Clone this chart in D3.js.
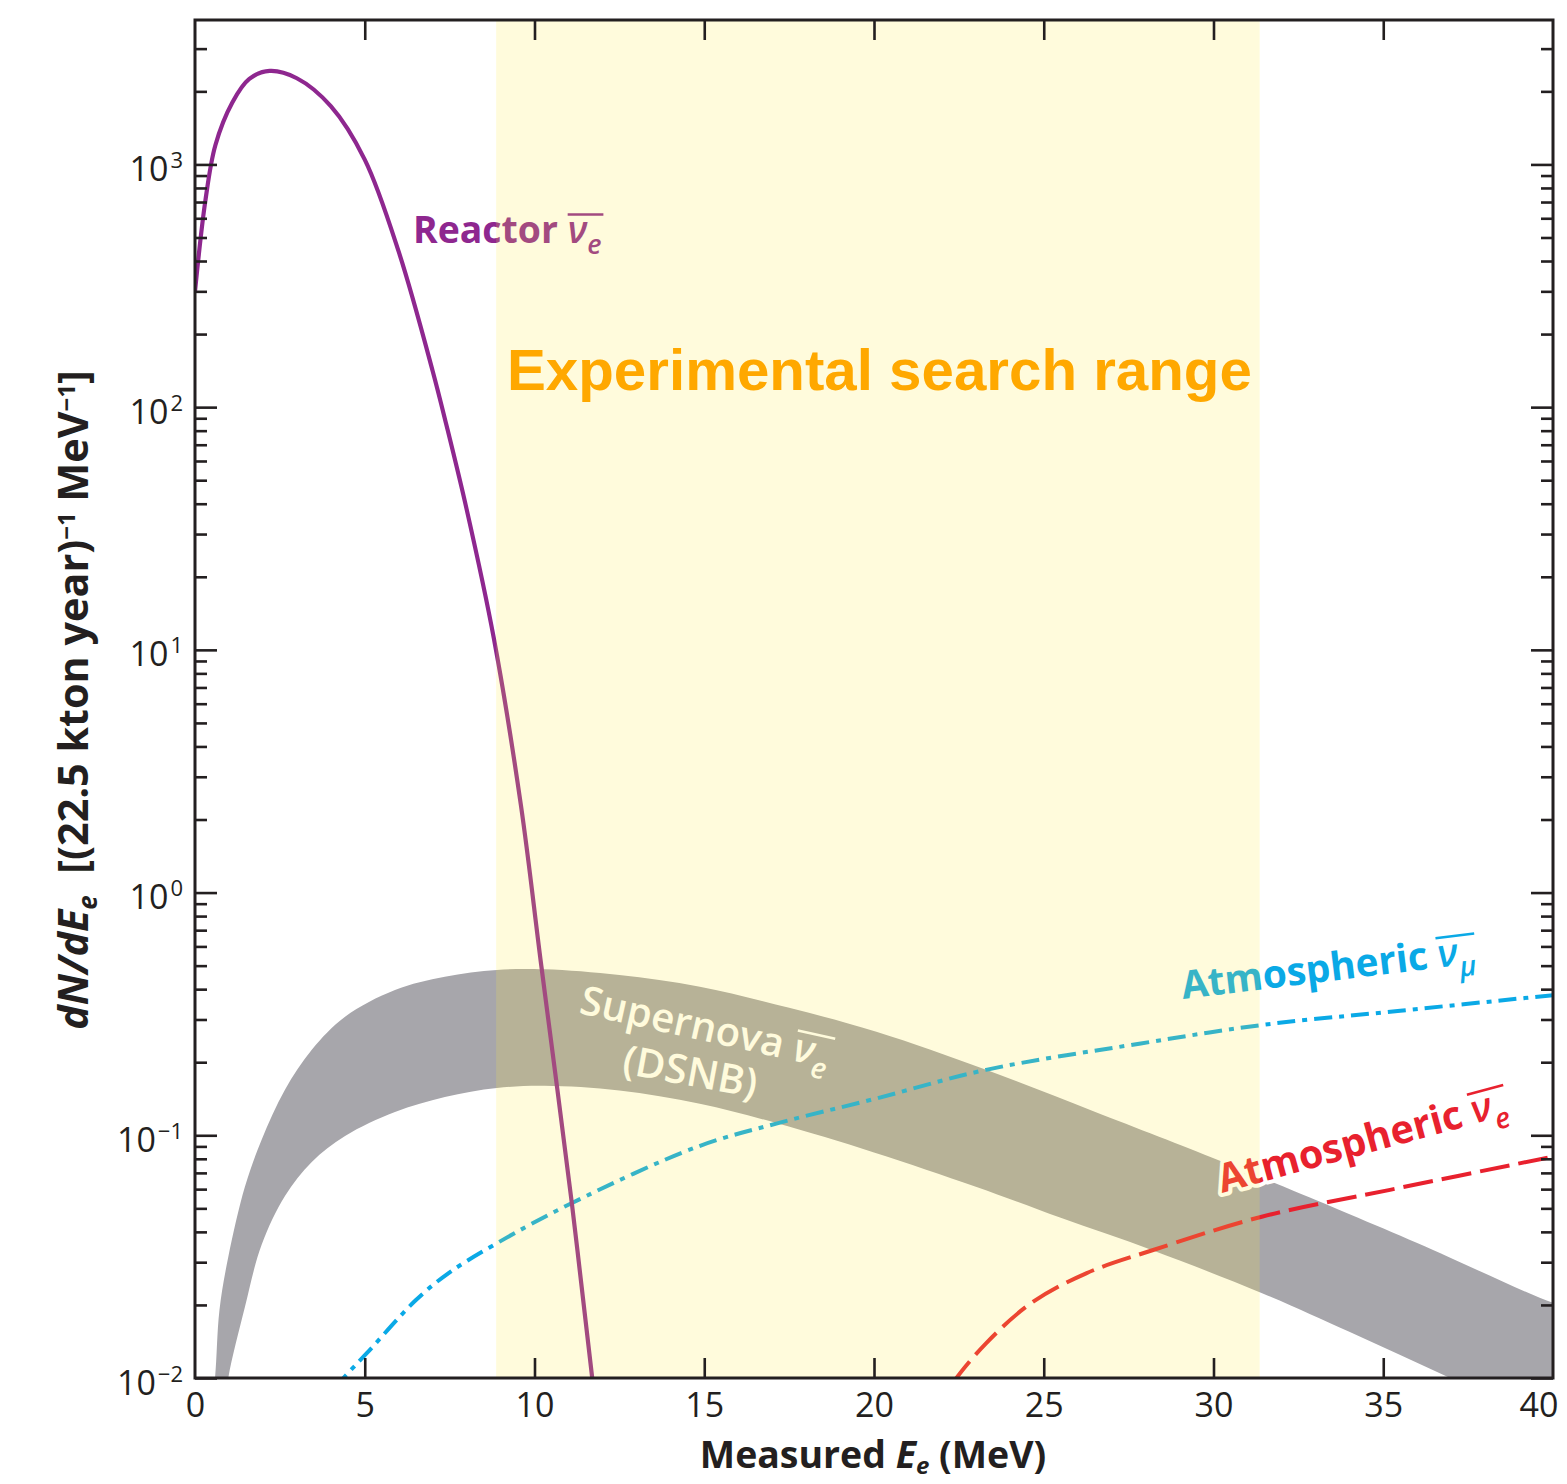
<!DOCTYPE html>
<html><head><meta charset="utf-8">
<script src="https://cdn.jsdelivr.net/npm/d3@7"></script>
<style>html,body{margin:0;padding:0;background:#fff}</style>
</head><body>
<svg id="chart" width="1567" height="1484"></svg>
<script>
// ---------------- data ----------------
const xDomain = [0, 40];
const yDomain = [0.01, 3936];
const xTicks = [0, 5, 10, 15, 20, 25, 30, 35, 40];
const yDecades = [0.01, 0.1, 1, 10, 100, 1000];
const yDecadeExp = ["\u22122", "\u22121", "0", "1", "2", "3"];
const searchRange = [8.87, 31.36];

const reactorE = [0, 0.3, 0.6, 1.1, 1.6, 2.2, 3.0, 4.0, 5.0, 6.0, 7.0, 7.4, 8.0, 8.8, 9.6, 10.2, 11.1, 11.7, 11.85];
const reactorN = [300, 700, 1200, 1800, 2250, 2427, 2265, 1738, 1047, 437, 141, 85, 38, 11.2, 2.29, 0.5, 0.0525, 0.01, 0.0072];

const dsnbUpperE = [0.45, 0.59, 0.72, 0.98, 1.47, 1.96, 2.65, 3.44, 4.42, 5.89, 7.36, 8.89, 10.3, 12.5, 14.87, 17.5, 20.07, 23.3, 26.5, 30.15, 32.18, 36, 40, 41];
const dsnbUpper  = [0.007, 0.01, 0.019, 0.0315, 0.0613, 0.0957, 0.154, 0.225, 0.308, 0.397, 0.45, 0.48, 0.483, 0.457, 0.409, 0.335, 0.267, 0.186, 0.125, 0.079, 0.0605, 0.036, 0.0204, 0.0186];
const dsnbLowerE = [0.85, 0.98, 1.47, 1.96, 2.65, 3.44, 4.42, 5.89, 7.36, 8.89, 10.3, 12.5, 14.87, 17.15, 20, 23.0, 25.5, 28.2, 31.45, 34, 36.97, 40, 41];
const dsnbLower  = [0.007, 0.01, 0.0196, 0.0353, 0.0562, 0.0776, 0.0993, 0.1247, 0.1439, 0.1567, 0.16, 0.153, 0.135, 0.112, 0.085, 0.0614, 0.0457, 0.0336, 0.0223, 0.0155, 0.01, 0.0065, 0.0055];

const atmMuE = [4.1, 4.37, 5.06, 6.5, 7.46, 8.89, 11.09, 14.8, 17.15, 20, 23.3, 27.86, 31.45, 35.5, 40];
const atmMu  = [0.0091, 0.01, 0.01265, 0.0209, 0.027, 0.0359, 0.0525, 0.0897, 0.112, 0.141, 0.186, 0.239, 0.285, 0.326, 0.378];

const atmEE = [22.3, 22.43, 23.3, 24.62, 26.25, 28.2, 31.45, 35.2, 40];
const atmE  = [0.0093, 0.01, 0.0139, 0.0203, 0.027, 0.0336, 0.0463, 0.0596, 0.0817];

// ---------------- drawing ----------------
const svg = d3.select("#chart");
const X0 = 195, X1 = 1553, Y0 = 1378, Y1 = 20;
const INK = "#231f20";
const LABEL_FONT = "'Open Sans', 'Noto Sans', sans-serif";
const x = d3.scaleLinear().domain(xDomain).range([X0, X1]);
const y = d3.scaleLog().domain(yDomain).range([Y0, Y1]);

function draw() {
  svg.append("rect").attr("width", 1567).attr("height", 1484).attr("fill", "#fff");
  svg.append("defs").append("clipPath").attr("id", "plotclip")
    .append("rect").attr("x", X0).attr("y", Y1).attr("width", X1 - X0).attr("height", Y0 - Y1);

  const plot = svg.append("g").attr("clip-path", "url(#plotclip)");

  const pts = (E, V) => E.map((e, i) => [e, V[i]]);
  const line = d3.line().x(d => x(d[0])).y(d => y(d[1])).curve(d3.curveCatmullRom.alpha(0.5));

  // DSNB band
  const bandPts = pts(dsnbUpperE, dsnbUpper).concat(pts(dsnbLowerE, dsnbLower).reverse());
  plot.append("path").attr("d", line(bandPts) + "Z").attr("fill", "#a7a6ab");

  // atmospheric nu_mu-bar (dash-dot)
  plot.append("path").attr("d", line(pts(atmMuE, atmMu))).attr("fill", "none")
    .attr("stroke", "#0aa9e6").attr("stroke-width", 4).attr("stroke-dasharray", "18,7,5,7");
  // atmospheric nu_e-bar (long dash)
  plot.append("path").attr("d", line(pts(atmEE, atmE))).attr("fill", "none")
    .attr("stroke", "#e8212e").attr("stroke-width", 4).attr("stroke-dasharray", "30,9");
  // reactor
  plot.append("path").attr("d", line(pts(reactorE, reactorN))).attr("fill", "none")
    .attr("stroke", "#8e278f").attr("stroke-width", 4.2);

  // labels with nu-bar
  function nuLabel(o) {
    const g = svg.append("g").attr("transform", `translate(${o.x},${o.y}) rotate(${o.angle})`);
    const t = g.append("text").attr("font-family", LABEL_FONT).attr("font-weight", o.weight || 700)
      .attr("fill", o.fill).attr("font-size", 40);
    if (o.halo) t.attr("stroke", "#fff").attr("stroke-width", 8).attr("paint-order", "stroke").attr("stroke-linejoin", "round");
    const t1 = t.append("tspan").text(o.word);
    const w = t1.node().getComputedTextLength();
    const fs = 40 * o.width / w;
    t.attr("font-size", fs);
    if (!o.greek) return;
    t.append("tspan").text("\u00a0");
    t.append("tspan").attr("font-style", "italic").attr("font-weight", 600).text(o.greek);
    t.append("tspan").attr("font-style", "italic").attr("font-weight", 600).attr("font-size", fs * 0.72).attr("dy", fs * 0.3).text(o.sub);
    const n = t.node();
    const i = o.word.length + 1;
    const sx = n.getStartPositionOfChar(i).x, ex = n.getEndPositionOfChar(i + 1).x;
    if (o.halo) g.insert("line", "text").attr("x1", sx).attr("x2", ex + 2).attr("y1", -fs * 0.76).attr("y2", -fs * 0.76)
      .attr("stroke", "#fff").attr("stroke-width", 8);
    g.append("line").attr("x1", sx).attr("x2", ex + 2).attr("y1", -fs * 0.76).attr("y2", -fs * 0.76)
      .attr("stroke", o.fill).attr("stroke-width", Math.max(2, fs * 0.065));
  }
  nuLabel({word: "Reactor", greek: "\u03bd", sub: "e", x: 413, y: 243, angle: 0, width: 145, fill: "#8e278f"});
  nuLabel({word: "Supernova", greek: "\u03bd", sub: "e", x: 578, y: 1013, angle: 12.5, width: 208, fill: "#ffffff", weight: 600});
  nuLabel({word: "(DSNB)", x: 621, y: 1073, angle: 10.5, width: 136, fill: "#ffffff", weight: 600});
  nuLabel({word: "Atmospheric", greek: "\u03bd", sub: "\u03bc", x: 1183, y: 999, angle: -7, width: 248, fill: "#0aa9e6"});
  nuLabel({word: "Atmospheric", greek: "\u03bd", sub: "e", x: 1222, y: 1193, angle: -15.3, width: 252, fill: "#e8212e", halo: true});

  // search-range overlay
  svg.append("rect").attr("x", x(searchRange[0])).attr("y", Y1)
    .attr("width", x(searchRange[1]) - x(searchRange[0])).attr("height", Y0 - Y1)
    .attr("fill", "rgb(255,233,64)").attr("opacity", 0.185);

  const exp = svg.append("text").attr("x", 507).attr("y", 390)
    .attr("font-family", "'Liberation Sans', Arial, sans-serif").attr("font-weight", 700)
    .attr("fill", "#ffa800").attr("font-size", 56).text("Experimental search range");
  const ew = exp.node().getComputedTextLength();
  exp.attr("font-size", 56 * 745 / ew);

  // ---------------- axes ----------------
  const minor = [];
  for (let k = -2; k <= 3; k++) for (let m = 2; m <= 9; m++) {
    const v = m * Math.pow(10, k);
    if (v <= yDomain[1]) minor.push(v);
  }
  const styleAxis = g => {
    g.select(".domain").remove();
    g.selectAll(".tick line").attr("stroke", INK).attr("stroke-width", 2.6);
  };
  svg.append("g").attr("transform", `translate(${X0},0)`).call(d3.axisLeft(y).tickValues(minor).tickSize(-12).tickFormat("")).call(styleAxis);
  svg.append("g").attr("transform", `translate(${X1},0)`).call(d3.axisRight(y).tickValues(minor).tickSize(-12).tickFormat("")).call(styleAxis);
  svg.append("g").attr("transform", `translate(${X1},0)`).call(d3.axisRight(y).tickValues(yDecades).tickSize(-22).tickFormat("")).call(styleAxis);
  const yl = svg.append("g").attr("transform", `translate(${X0},0)`)
    .call(d3.axisLeft(y).tickValues(yDecades).tickSize(-22)).call(styleAxis);
  yl.selectAll(".tick text").each(function(d) {
    const t = d3.select(this);
    t.text(null).attr("x", -12).attr("dy", null).attr("y", 16)
      .attr("font-family", LABEL_FONT).attr("font-size", 34).attr("fill", INK).attr("text-anchor", "end");
    t.append("tspan").text("10");
    t.append("tspan").attr("dy", -13).attr("dx", 2).attr("font-size", 22).text(yDecadeExp[yDecades.indexOf(d)]);
  });
  const xb = svg.append("g").attr("transform", `translate(0,${Y0})`)
    .call(d3.axisBottom(x).tickValues(xTicks).tickSize(-20).tickPadding(15)).call(styleAxis);
  xb.selectAll(".tick text").attr("font-family", LABEL_FONT).attr("font-size", 34).attr("fill", INK)
    .filter(d => d === 40).attr("text-anchor", "end").attr("x", 5);
  xb.selectAll(".tick line").filter(d => d === 0 || d === 40).remove();
  const xt = svg.append("g").attr("transform", `translate(0,${Y1})`)
    .call(d3.axisTop(x).tickValues(xTicks).tickSize(-20).tickFormat("")).call(styleAxis);
  xt.selectAll(".tick line").filter(d => d === 0 || d === 40).remove();

  // frame
  svg.append("rect").attr("x", X0).attr("y", Y1).attr("width", X1 - X0).attr("height", Y0 - Y1)
    .attr("fill", "none").attr("stroke", INK).attr("stroke-width", 3);

  // axis titles
  const xt2 = svg.append("text").attr("x", 873).attr("y", 1468).attr("text-anchor", "middle")
    .attr("font-family", LABEL_FONT).attr("font-weight", 700).attr("fill", INK).attr("font-size", 36);
  xt2.append("tspan").text("Measured ");
  xt2.append("tspan").attr("font-style", "italic").text("E");
  xt2.append("tspan").attr("font-style", "italic").attr("font-size", 24).attr("dy", 6).text("e");
  xt2.append("tspan").attr("dy", -6).text(" (MeV)");
  const xw = xt2.node().getComputedTextLength();
  xt2.attr("font-size", 36 * 347 / xw);

  const ytl = svg.append("text").attr("transform", "translate(88,700) rotate(-90)").attr("text-anchor", "middle")
    .attr("font-family", LABEL_FONT).attr("font-weight", 700).attr("fill", INK).attr("font-size", 36);
  ytl.append("tspan").attr("font-style", "italic").text("dN/dE");
  ytl.append("tspan").attr("font-style", "italic").attr("font-size", 26).attr("dy", 9).text("e");
  ytl.append("tspan").attr("dy", -9).text("\u00a0\u00a0[(22.5 kton year)");
  ytl.append("tspan").attr("font-size", 24).attr("dy", -13).text("\u22121");
  ytl.append("tspan").attr("dy", 13).text(" MeV");
  ytl.append("tspan").attr("font-size", 24).attr("dy", -13).text("\u22121");
  ytl.append("tspan").attr("dy", 13).text("]");
  const yw = ytl.node().getComputedTextLength();
  ytl.attr("font-size", 36 * 670 / yw);
}
if (document.fonts && document.fonts.ready) document.fonts.ready.then(draw); else draw();
</script>
</body></html>
